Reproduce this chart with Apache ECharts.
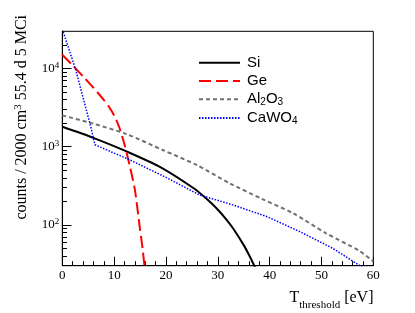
<!DOCTYPE html>
<html>
<head>
<meta charset="utf-8">
<script src="https://cdn.jsdelivr.net/npm/echarts@6/dist/echarts.min.js"></script>
<style>
html,body{margin:0;padding:0;background:#fff;}
#c{width:415px;height:313px;}
</style>
</head>
<body>
<div id="c"></div>
<script>
// Data
const seriesNames = ['Si', 'Ge', 'Al2O3', 'CaWO4'];
const siT      = [0, 6, 12.4, 19, 25.5, 27.5, 29.7, 31.7, 33, 35, 36.2, 37.3];
const siCounts = [1800, 1300, 870, 545, 290, 225, 164, 116, 89, 55, 39, 27.5];
const geT      = [0, 2, 4, 6, 8, 9, 10, 11, 12, 13, 14, 15, 15.5, 15.9];
const geCounts = [15000, 10960, 7940, 5690, 3980, 3240, 2510, 1760, 1070, 575, 282, 87, 49, 28];
const alT      = [0, 6, 12.4, 19.5, 26, 32.3, 38.5, 44.5, 50.9, 57.4, 60];
const alCounts = [2520, 1970, 1450, 900, 580, 340, 215, 141, 78, 46, 34];
const caT      = [0, 2.6, 5.4, 6.3, 9.5, 12.8, 20, 26.5, 32.9, 39.4, 45.8, 52.2, 57.4, 58];
const caCounts = [32000, 9600, 1900, 1060, 855, 690, 405, 241, 180, 128, 82, 50, 30, 28];
const yMin = 30, yMax = 30000;
const yMajorTicks = [100, 1000, 10000];
const yMinorTicks = [40, 50, 60, 70, 80, 90, 200, 300, 400, 500, 600, 700, 800, 900,
  2000, 3000, 4000, 5000, 6000, 7000, 8000, 9000, 20000];

const pairs = (xs, ys) => xs.map((x, i) => [x, ys[i]]);
const lg = Math.log10;
const serif = 'Liberation Serif';
const sans = 'Liberation Sans';

// helper axes in log10 space that only draw the tick marks of the log axis
const tickAxisInside = (vals, len) => ({
  type: 'value', min: lg(yMin), max: lg(yMax), position: 'left', offset: 0,
  axisLine: {show: true, lineStyle: {color: '#000', width: 1}},
  axisTick: {show: true, inside: true, length: len, customValues: vals.map(lg), lineStyle: {color: '#000', width: 1}},
  axisLabel: {show: false},
  splitLine: {show: false}
});
const tickAxisShifted = (vals, len) => ({
  type: 'value', min: lg(yMin), max: lg(yMax), position: 'left', offset: -len,
  axisLine: {show: true, lineStyle: {color: 'rgba(0,0,0,0)', width: 1}},
  axisTick: {show: true, inside: false, length: len, customValues: vals.map(lg), lineStyle: {color: '#000', width: 1}},
  axisLabel: {show: false},
  splitLine: {show: false}
});

const chart = echarts.init(document.getElementById('c'), null, {renderer: 'canvas'});
const legendRich = {
  a: {fontFamily: sans, fontSize: 15, color: '#000', lineHeight: 16},
  s: {fontFamily: sans, fontSize: 10, color: '#000', lineHeight: 10, verticalAlign: 'bottom'}
};
chart.setOption({
  animation: false,
  backgroundColor: '#fff',
  grid: {left: 62.3, right: 41.7, top: 31.3, bottom: 47.3, show: true, borderColor: '#000', borderWidth: 1, backgroundColor: 'transparent'},
  legend: {
    show: true, orient: 'vertical', left: 193, top: 50.3, itemWidth: 41, itemHeight: 14, itemGap: 3.2,
    data: seriesNames,
    itemStyle: {color: 'rgba(0,0,0,0)', borderColor: 'rgba(0,0,0,0)', borderWidth: 0},
    formatter: function (n) {
      if (n === 'Al2O3') return '{a|Al}{s|2}{a|O}{s|3}';
      if (n === 'CaWO4') return '{a|CaWO}{s|4}';
      return '{a|' + n + '}';
    },
    textStyle: {rich: legendRich, padding: [0, 0, 0, 2]}
  },
  xAxis: {
    type: 'value', min: 0, max: 60, interval: 10,
    axisLine: {show: true, lineStyle: {color: '#000', width: 1}},
    axisTick: {show: true, inside: true, length: 9, lineStyle: {color: '#000', width: 1}},
    minorTick: {show: true, splitNumber: 5, length: 4.5, lineStyle: {color: '#000', width: 1}},
    splitLine: {show: false},
    minorSplitLine: {show: false},
    axisLabel: {show: true, fontFamily: serif, fontSize: 13, color: '#000', margin: 3}
  },
  yAxis: [{
    type: 'log', logBase: 10, min: yMin, max: yMax,
    axisLine: {show: true, lineStyle: {color: '#000', width: 1}},
    axisTick: {show: false},
    splitLine: {show: false},
    axisLabel: {
      show: true, customValues: yMajorTicks, margin: 3, fontFamily: serif, fontSize: 13, color: '#000',
      formatter: function (v) { return '{b|10}{s|' + Math.round(Math.log10(v)) + '}'; },
      rich: {
        b: {fontFamily: serif, fontSize: 13, color: '#000'},
        s: {fontFamily: serif, fontSize: 9, color: '#000', verticalAlign: 'top', padding: [0, 0, 6, 0]}
      }
    }
  },
  tickAxisInside(yMajorTicks, 9), tickAxisInside(yMinorTicks, 4.5),
  tickAxisShifted(yMajorTicks, 9), tickAxisShifted(yMinorTicks, 4.5)],
  graphic: [
    {type: 'text', x: 22, y: 15, rotation: Math.PI / 2,
     style: {text: '{a|counts / 2000 cm}{s|3}{a| 55.4 d 5 MCi}', textAlign: 'right', textVerticalAlign: 'middle',
       rich: {a: {fontFamily: serif, fontSize: 16, color: '#000'},
              s: {fontFamily: serif, fontSize: 11, color: '#000', verticalAlign: 'top', padding: [0, 0, 7, 0]}}}},
    {type: 'text', x: 373.5, y: 311,
     style: {text: '{a|T}{s|threshold}{a| [eV]}', textAlign: 'right', textVerticalAlign: 'bottom',
       rich: {a: {fontFamily: serif, fontSize: 16, color: '#000', padding: [0, 0, 5, 0]},
              s: {fontFamily: serif, fontSize: 11, color: '#000', verticalAlign: 'bottom'}}}}
  ],
  series: [
    {name: 'Si', type: 'line', data: pairs(siT, siCounts), showSymbol: false, symbol: 'none', smooth: 0.25,
     lineStyle: {color: '#000', width: 2}, itemStyle: {color: '#000'}},
    {name: 'Ge', type: 'line', data: pairs(geT, geCounts), showSymbol: false, symbol: 'none', smooth: 0.25,
     lineStyle: {color: '#ff0000', width: 2, type: [12, 5]}, itemStyle: {color: '#ff0000'}},
    {name: 'Al2O3', type: 'line', data: pairs(alT, alCounts), showSymbol: false, symbol: 'none', smooth: 0.25,
     lineStyle: {color: '#707070', width: 2, type: [4, 3]}, itemStyle: {color: '#707070'}},
    {name: 'CaWO4', type: 'line', data: pairs(caT, caCounts), showSymbol: false, symbol: 'none', smooth: false,
     lineStyle: {color: '#0000ff', width: 1.5, type: [1.5, 1.5]}, itemStyle: {color: '#0000ff'}}
  ]
});
</script>
</body>
</html>
